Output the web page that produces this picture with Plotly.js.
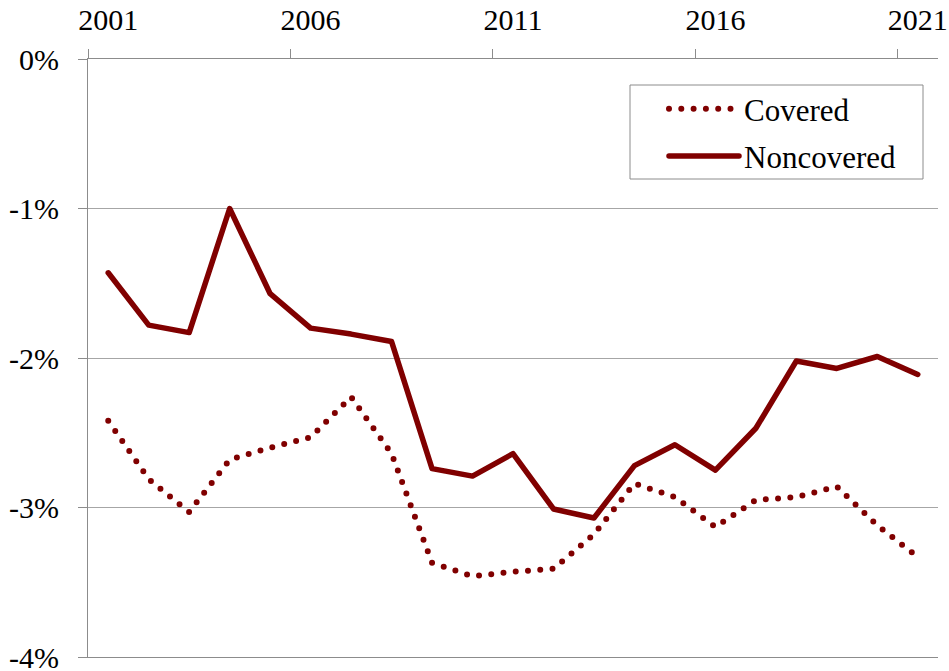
<!DOCTYPE html>
<html>
<head>
<meta charset="utf-8">
<script src="https://cdn.plot.ly/plotly-3.0.1.min.js"></script>
<style>
  html, body { margin: 0; padding: 0; background: #fff; }
  #chart { width: 949px; height: 671px; }
  .scatterlayer path.js-line, .legend path.js-line { stroke-linecap: round; stroke-linejoin: round; }
</style>
</head>
<body>
<div id="chart"></div>
<script>
const years = ["2001","2002","2003","2004","2005","2006","2007","2008","2009","2010","2011",
               "2012","2013","2014","2015","2016","2017","2018","2019","2020","2021"];
const covered = [-2.42, -2.81, -3.03, -2.68, -2.60, -2.53, -2.26, -2.64, -3.37, -3.46, -3.43,
                 -3.41, -3.18, -2.84, -2.93, -3.13, -2.95, -2.93, -2.86, -3.12, -3.33];
const noncovered = [-1.43, -1.78, -1.83, -1.00, -1.57, -1.80, -1.84, -1.89, -2.74, -2.79, -2.64,
                    -3.01, -3.07, -2.72, -2.58, -2.75, -2.47, -2.02, -2.07, -1.99, -2.11];
const yTickVals = [0, -1, -2, -3, -4];
const yTickText = ["0%", "-1%", "-2%", "-3%", "-4%"];

const red = "#800000";
const font = "'Liberation Serif', 'Times New Roman', 'DejaVu Serif', serif";

const traces = [
  { x: years, y: covered, name: "Covered", type: "scatter", mode: "lines", legendgroup: "a",
    line: { color: red, width: 6, dash: "0px,12.3px" } },
  { x: years, y: noncovered, name: "Noncovered", type: "scatter", mode: "lines", legendgroup: "b",
    line: { color: red, width: 5.5 } }
];

const layout = {
  width: 949, height: 671,
  margin: { l: 88, r: 11, t: 59, b: 14, pad: 0 },
  paper_bgcolor: "#fff", plot_bgcolor: "#fff",
  font: { family: font, size: 30, color: "#000" },
  showlegend: true,
  legend: {
    x: (664 - 88) / 850, xanchor: "left", y: (657 - 82) / 598, yanchor: "top",
    bgcolor: "rgba(0,0,0,0)", borderwidth: 0,
    font: { family: font, size: 31, color: "#000" },
    itemwidth: 70, tracegroupgap: 4
  },
  shapes: [{
    type: "rect", xref: "paper", yref: "paper", layer: "below",
    x0: (630 - 88) / 850, x1: (923 - 88) / 850,
    y0: (657 - 179) / 598, y1: (657 - 85) / 598,
    line: { color: "#8c8c8c", width: 1 }, fillcolor: "#fff"
  }],
  xaxis: {
    type: "category", side: "top", range: [-0.5, 20.5],
    tickmode: "linear", tick0: 0, dtick: 5, tickson: "boundaries", tickangle: 0,
    showline: true, mirror: true, linecolor: "#8c8c8c", linewidth: 1,
    ticks: "outside", ticklen: 9, tickcolor: "#8c8c8c", tickwidth: 1,
    showgrid: false, zeroline: false, ticklabelstandoff: 16,
    tickfont: { family: font, size: 30, color: "#000" }
  },
  yaxis: {
    range: [-4, 0], tickmode: "array", tickvals: yTickVals, ticktext: yTickText,
    showline: true, linecolor: "#8c8c8c", linewidth: 1,
    ticks: "outside", ticklen: 9, tickcolor: "#8c8c8c", tickwidth: 1,
    showgrid: true, gridcolor: "#a6a6a6", gridwidth: 1, zeroline: false,
    ticklabelstandoff: 13, ticklabeloverflow: "allow",
    tickfont: { family: font, size: 30, color: "#000" }
  }
};

Plotly.newPlot("chart", traces, layout, { staticPlot: true, displayModeBar: false });
</script>
</body>
</html>
